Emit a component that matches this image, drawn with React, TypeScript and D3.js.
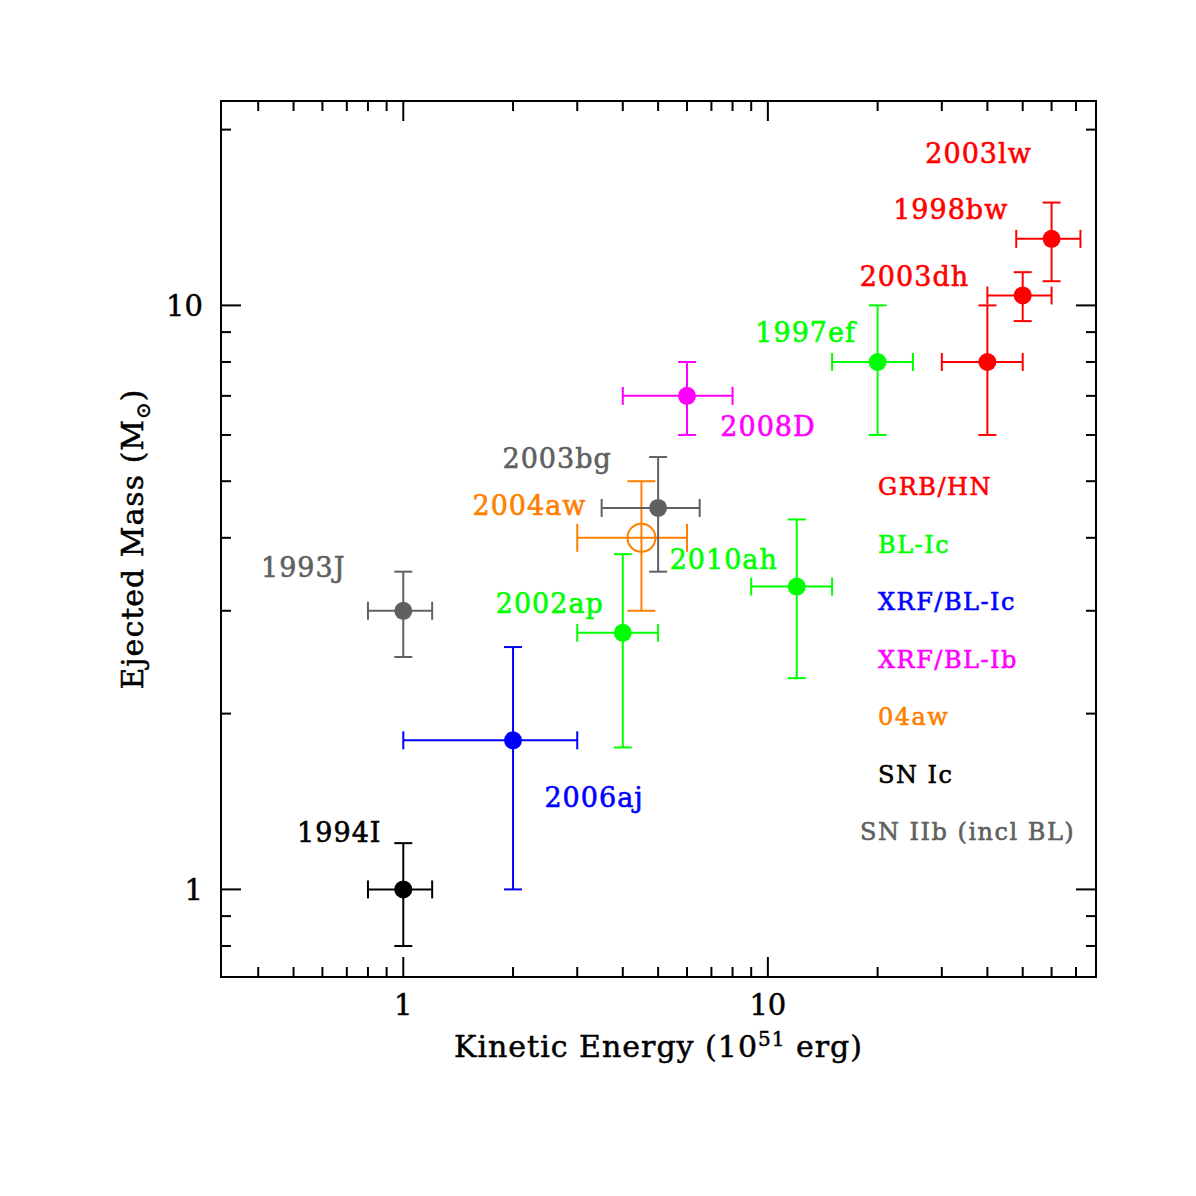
import { useEffect, useRef } from 'react'
import * as d3 from 'd3'

// supernova names and measured values (energy in 1e51 erg, mass in Msun)
const names = ['1994I', '1993J', '2006aj', '2002ap', '2004aw', '2003bg', '2008D', '2010ah', '1997ef', '2003dh', '1998bw', '2003lw']
const energy = [1, 1, 2, 4, 4.5, 5, 6, 12, 20, 40, 50, 60]
const energyLo = [0.8, 0.8, 1, 3, 3, 3.5, 4, 9, 15, 30, 40, 48]
const energyHi = [1.2, 1.2, 3, 5, 6, 6.5, 8, 15, 25, 50, 60, 72]
const mass = [1, 3, 1.8, 2.75, 4, 4.5, 7, 3.3, 8, 8, 10.4, 13]
const massLo = [0.8, 2.5, 1, 1.75, 3, 3.5, 6, 2.3, 6, 6, 9.4, 11]
const massHi = [1.2, 3.5, 2.6, 3.75, 5, 5.5, 8, 4.3, 10, 10, 11.4, 15]
// index into classes
const kind = [5, 6, 2, 1, 4, 6, 3, 1, 1, 0, 0, 0]
const openMarker = ['2004aw']

const classes = ['GRB/HN', 'BL-Ic', 'XRF/BL-Ic', 'XRF/BL-Ib', '04aw', 'SN Ic', 'SN IIb (incl BL)']
const classColors = ['#ff0000', '#00ff00', '#0000ff', '#ff00ff', '#ff7f00', '#000000', '#606060']

// label offsets from the point (px)
const labelDx = [-64, -100, 81, -73, -112, -101, 81, -73, -72, -73, -72, -73]
const labelDy = [-57, -44, 57, -30, -33, -50, 30, -28, -30, -86, -86, -86]

const FONT = '"DejaVu Serif", serif'

export default function App() {
  const svgRef = useRef<SVGSVGElement>(null)

  useEffect(() => {
    if (!svgRef.current) return
    const svg = d3.select(svgRef.current)
    svg.selectAll('*').remove()

    const width = 1196
    const height = 1196
    const margin = { top: 101, right: 100, bottom: 219, left: 221 }
    const x0 = margin.left
    const x1 = width - margin.right
    const y0 = margin.top
    const y1 = height - margin.bottom

    const x = d3.scaleLog().domain([Math.pow(10, -0.5), Math.pow(10, 1.9)]).range([x0, x1])
    const y = d3.scaleLog().domain([Math.pow(10, -0.15), Math.pow(10, 1.35)]).range([y1, y0])

    svg.attr('width', width).attr('height', height)
    svg.append('rect').attr('width', width).attr('height', height).attr('fill', '#fff')

    // frame
    svg.append('rect')
      .attr('x', x0).attr('y', y0)
      .attr('width', x1 - x0).attr('height', y1 - y0)
      .attr('fill', 'none').attr('stroke', '#000').attr('stroke-width', 2)

    const isMajor = (v: number) => Math.abs(Math.log10(v) - Math.round(Math.log10(v))) < 1e-6

    // x ticks (bottom and top)
    x.ticks().forEach(v => {
      const len = isMajor(v) ? 20 : 10
      const px = x(v)
      svg.append('line').attr('x1', px).attr('x2', px).attr('y1', y1).attr('y2', y1 - len)
        .attr('stroke', '#000').attr('stroke-width', 2)
      svg.append('line').attr('x1', px).attr('x2', px).attr('y1', y0).attr('y2', y0 + len)
        .attr('stroke', '#000').attr('stroke-width', 2)
      if (isMajor(v)) {
        svg.append('text').attr('x', px).attr('y', y1 + 38)
          .attr('text-anchor', 'middle')
          .style('font-family', FONT).style('font-size', '29px')
          .style('stroke', '#000').style('stroke-width', 0.5)
          .text(d3.format('d')(v))
      }
    })

    // y ticks (left and right)
    y.ticks().forEach(v => {
      const len = isMajor(v) ? 20 : 10
      const py = y(v)
      svg.append('line').attr('x1', x0).attr('x2', x0 + len).attr('y1', py).attr('y2', py)
        .attr('stroke', '#000').attr('stroke-width', 2)
      svg.append('line').attr('x1', x1).attr('x2', x1 - len).attr('y1', py).attr('y2', py)
        .attr('stroke', '#000').attr('stroke-width', 2)
      if (isMajor(v)) {
        svg.append('text').attr('x', x0 - 18).attr('y', py + 11)
          .attr('text-anchor', 'end')
          .style('font-family', FONT).style('font-size', '29px')
          .style('stroke', '#000').style('stroke-width', 0.5)
          .text(d3.format('d')(v))
      }
    })

    // axis titles
    const xt = svg.append('text')
      .attr('x', (x0 + x1) / 2).attr('y', 1057)
      .attr('text-anchor', 'middle')
      .style('font-family', FONT).style('font-size', '30px')
      .style('letter-spacing', '1px')
      .style('stroke', '#000').style('stroke-width', 0.5)
    xt.append('tspan').text('Kinetic Energy (10')
    xt.append('tspan').attr('dy', -11).style('font-size', '20px').text('51')
    xt.append('tspan').attr('dy', 11).text(' erg)')

    const yt = svg.append('text')
      .attr('transform', `translate(143,${(y0 + y1) / 2}) rotate(-90)`)
      .attr('text-anchor', 'middle')
      .style('font-family', FONT).style('font-size', '30px')
      .style('letter-spacing', '1px')
      .style('stroke', '#000').style('stroke-width', 0.5)
    yt.append('tspan').text('Ejected Mass (M')
    yt.append('tspan').attr('dy', 7).style('font-size', '20px').text('⊙')
    yt.append('tspan').attr('dy', -7).text(')')

    // error bars and points
    names.forEach((name, i) => {
      const col = classColors[kind[i]]
      const open = openMarker.includes(name)
      const cap = open ? 14 : 9
      const px = x(energy[i])
      const py = y(mass[i])
      const g = svg.append('g').attr('stroke', col).attr('stroke-width', 2).attr('fill', 'none')
      const xl = x(energyLo[i]), xh = x(energyHi[i])
      const yl = y(massLo[i]), yh = y(massHi[i])
      g.append('line').attr('x1', xl).attr('x2', xh).attr('y1', py).attr('y2', py)
      g.append('line').attr('x1', xl).attr('x2', xl).attr('y1', py - cap).attr('y2', py + cap)
      g.append('line').attr('x1', xh).attr('x2', xh).attr('y1', py - cap).attr('y2', py + cap)
      g.append('line').attr('x1', px).attr('x2', px).attr('y1', yl).attr('y2', yh)
      g.append('line').attr('x1', px - cap).attr('x2', px + cap).attr('y1', yl).attr('y2', yl)
      g.append('line').attr('x1', px - cap).attr('x2', px + cap).attr('y1', yh).attr('y2', yh)
      if (open) {
        g.append('circle').attr('cx', px).attr('cy', py).attr('r', 14)
      } else {
        g.append('circle').attr('cx', px).attr('cy', py).attr('r', 9).attr('fill', col).attr('stroke', 'none')
      }

      svg.append('text')
        .attr('x', px + labelDx[i]).attr('y', py + labelDy[i] + 10)
        .attr('text-anchor', 'middle')
        .style('font-family', FONT).style('font-size', '27px')
        .style('letter-spacing', '1px')
        .style('fill', col).style('stroke', col).style('stroke-width', 0.6)
        .text(name)
    })

    // legend
    const legendY = d3.scaleLinear().domain([0, classes.length - 1]).range([495, 840])
    classes.forEach((c, i) => {
      svg.append('text')
        .attr('x', i === classes.length - 1 ? 860 : 878)
        .attr('y', legendY(i))
        .style('font-family', FONT).style('font-size', '24px')
        .style('letter-spacing', '1.5px')
        .style('fill', classColors[i]).style('stroke', classColors[i]).style('stroke-width', 0.6)
        .text(c)
    })
  }, [])

  return (
    <div style={{ position: 'absolute', left: 0, top: 0 }}>
      <svg ref={svgRef} style={{ display: 'block' }}></svg>
    </div>
  )
}
